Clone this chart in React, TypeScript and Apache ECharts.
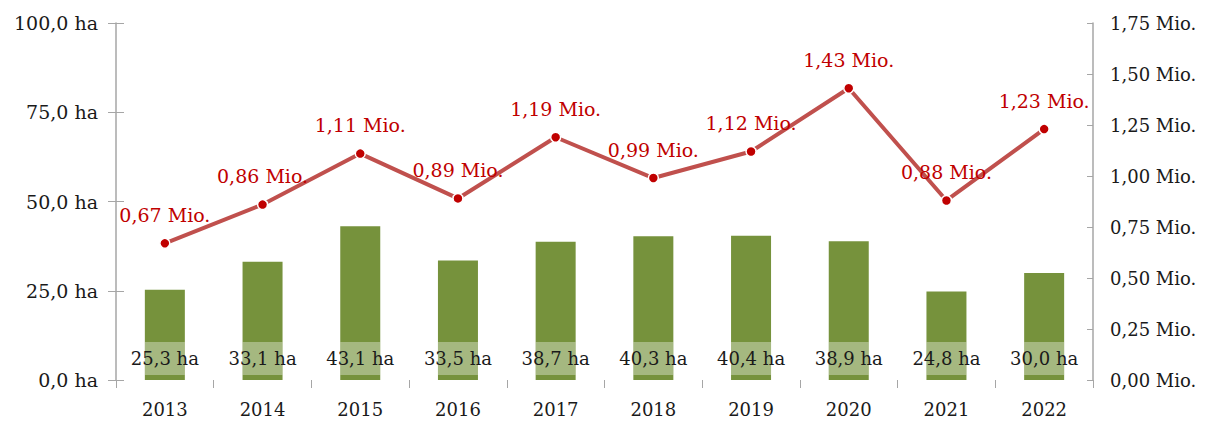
import React, { useEffect, useRef } from "react";
import * as echarts from "echarts";

const years = ["2013", "2014", "2015", "2016", "2017", "2018", "2019", "2020", "2021", "2022"];
const areaHa = [25.3, 33.1, 43.1, 33.5, 38.7, 40.3, 40.4, 38.9, 24.8, 30.0];
const visitorsMio = [0.67, 0.86, 1.11, 0.89, 1.19, 0.99, 1.12, 1.43, 0.88, 1.23];

const FONT = "'DejaVu Serif', serif";
const fmt = (v: number, d: number) => v.toFixed(d).replace(".", ",");
const AXIS = "#a6a6a6";
const TXT = "#1a1a1a";

export default function App() {
  const ref = useRef<HTMLDivElement>(null);
  useEffect(() => {
    const chart = echarts.init(ref.current!, null, { renderer: "svg" });
    chart.setOption({
      animation: false,
      textStyle: { fontFamily: FONT },
      grid: { left: 108, right: 113, top: 15, bottom: 41, containLabel: false, outerBoundsMode: "none" },
      xAxis: {
        type: "category",
        data: years,
        axisLine: { lineStyle: { color: AXIS, width: 1.5, shadowColor: "rgba(0,0,0,0.4)", shadowBlur: 6, shadowOffsetY: 3 } },
        axisTick: { show: true, length: 8, lineStyle: { color: AXIS } },
        axisLabel: { color: TXT, fontSize: 18, fontFamily: FONT, margin: 20 },
      },
      yAxis: [
        {
          type: "value",
          min: 0,
          max: 100,
          interval: 25,
          axisLine: { show: true, lineStyle: { color: AXIS, width: 1.5 } },
          axisTick: { show: true, length: 8, lineStyle: { color: AXIS } },
          splitLine: { show: false },
          axisLabel: { color: TXT, fontSize: 19, fontFamily: FONT, margin: 18, formatter: (v: number) => fmt(v, 1) + " ha" },
        },
        {
          type: "value",
          min: 0,
          max: 1.75,
          interval: 0.25,
          axisLine: { show: true, lineStyle: { color: AXIS, width: 1.5 } },
          axisTick: { show: true, inside: true, length: 6, lineStyle: { color: AXIS } },
          splitLine: { show: false },
          axisLabel: { color: TXT, fontSize: 18, fontFamily: FONT, margin: 17, formatter: (v: number) => fmt(v, 2) + " Mio." },
        },
        {
          type: "value",
          position: "left",
          min: 0,
          max: 100,
          interval: 25,
          axisLine: { show: false },
          axisTick: { show: true, inside: true, length: 8, lineStyle: { color: AXIS } },
          splitLine: { show: false },
          axisLabel: { show: false },
        },
      ],
      series: [
        {
          type: "bar",
          data: areaHa,
          barWidth: 40,
          itemStyle: { color: "#76923c" },
          label: {
            show: true,
            position: "insideBottom",
            distance: 5,
            width: 40,
            height: 33,
            lineHeight: 33,
            overflow: "none",
            align: "center",
            backgroundColor: "rgba(255,255,255,0.35)",
            color: TXT,
            fontSize: 18,
            fontFamily: FONT,
            formatter: (p: any) => fmt(p.value, 1) + " ha",
          },
        },
        {
          type: "line",
          yAxisIndex: 1,
          data: visitorsMio,
          lineStyle: { color: "#c0504d", width: 4 },
          symbol: "circle",
          symbolSize: 10,
          itemStyle: { color: "#c00000", borderColor: "#ffffff", borderWidth: 1.5 },
          label: {
            show: true,
            position: "top",
            distance: 13,
            color: "#c00000",
            fontSize: 19,
            fontFamily: FONT,
            formatter: (p: any) => fmt(p.value, 2) + " Mio.",
          },
          z: 5,
        },
      ],
    });
    return () => chart.dispose();
  }, []);
  return <div ref={ref} style={{ width: 1198, height: 413 }} />;
}
